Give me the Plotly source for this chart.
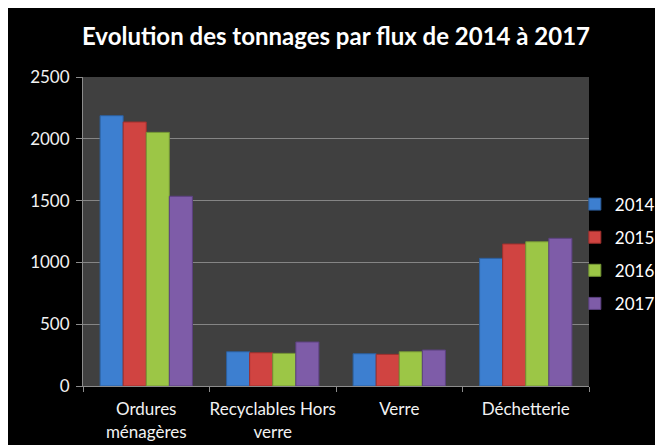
import plotly.graph_objects as go

categories = ["Ordures<br>ménagères", "Recyclables Hors<br>verre", "Verre", "Déchetterie"]
years = ["2014", "2015", "2016", "2017"]
v2014 = [2187, 277, 261, 1033]
v2015 = [2136, 269, 256, 1149]
v2016 = [2052, 264, 277, 1167]
v2017 = [1535, 356, 291, 1195]
series = [v2014, v2015, v2016, v2017]
colors = ["#3d7fd0", "#d04441", "#9cc646", "#7e5ca8"]
edges = ["#2c5f9e", "#9e2f2d", "#739535", "#5c4080"]

W, H = 663, 445
L, R, T, B = 75, 82, 69, 67
pw, ph = W - L - R, H - T - B

fig = go.Figure()
for i, (yr, vals) in enumerate(zip(years, series)):
    fig.add_trace(go.Bar(
        x=categories, y=vals, name=yr,
        marker=dict(color=colors[i], line=dict(color=edges[i], width=1)),
        legendgroup=yr,
    ))

font_family = "Lato, 'Open Sans', sans-serif"
fig.update_layout(
    width=W, height=H,
    margin=dict(l=L, r=R, t=T, b=B, autoexpand=False),
    paper_bgcolor="black",
    plot_bgcolor="#404040",
    barmode="group",
    bargap=0.27,
    bargroupgap=0,
    title=dict(text="<b>Evolution des tonnages par flux de 2014 à 2017</b>",
               x=(L + pw / 2) / W, xanchor="center",
               y=1 - 29 / H, yanchor="middle",
               font=dict(family=font_family, size=24, color="white")),
    font=dict(family=font_family, color="#f2f2f2", size=14),
    legend=dict(x=0.972, xanchor="left", y=0.427, yanchor="middle",
                font=dict(size=17, color="white"), bgcolor="rgba(0,0,0,0)",
                tracegroupgap=8, itemwidth=30),
    showlegend=True,
    xaxis=dict(showgrid=False, showline=True, linecolor="#8c8c8c", linewidth=1,
               ticks="outside", tickson="boundaries", ticklen=5, tickcolor="#8c8c8c",
               tickangle=0, automargin=False, ticklabelstandoff=8,
               tickfont=dict(size=17, color="#f2f2f2")),
    yaxis=dict(range=[0, 2500], dtick=500, showgrid=True, gridcolor="#858585", gridwidth=1,
               showline=True, linecolor="#8c8c8c", linewidth=1,
               ticks="outside", ticklen=6, tickcolor="#8c8c8c", automargin=False,
               ticklabelstandoff=3,
               tickfont=dict(size=17, color="#f2f2f2"), zeroline=False),
)

fig.write_html("out.html")
